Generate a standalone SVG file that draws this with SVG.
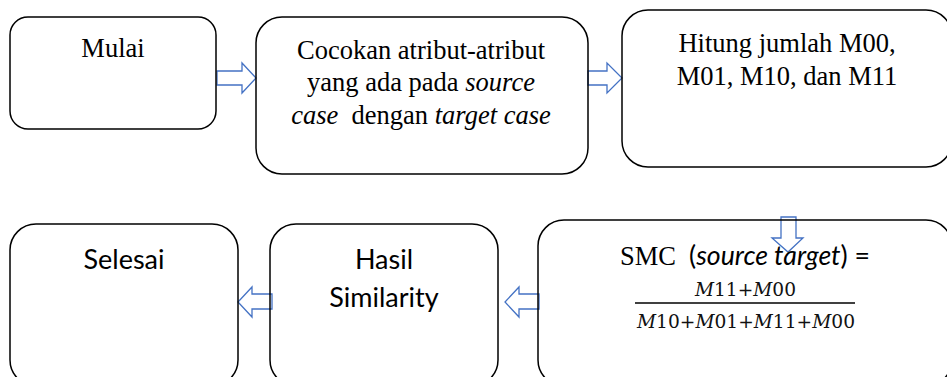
<svg xmlns="http://www.w3.org/2000/svg" width="947" height="377" viewBox="0 0 947 377">
<style>
.box{fill:none;stroke:#000;stroke-width:1.5}
.arr{fill:#fff;stroke:#4472C4;stroke-width:1.3;stroke-linejoin:miter}
.tm{font-family:"Liberation Serif","Times New Roman",serif;font-size:26.5px;fill:#000}
.sf{font-family:Lato,"Open Sans","Liberation Sans",sans-serif;font-size:27px;fill:#000}
.mf{font-family:"DejaVu Serif","Liberation Serif",serif;font-size:18px;fill:#111}
</style>
<rect width="947" height="377" fill="#fff"/>
<g id="connectors">
  <path class="arr" d="M217,71 H242 V63 L256,78 L242,93 V85 H217 Z"/>
  <path class="arr" d="M588,71 H607 V63 L622,78 L607,93 V85 H588 Z"/>
  <path class="arr" d="M781,217 H796 V238 H803 L788,252 L772,238 H781 Z"/>
  <path class="arr" d="M539,294 H519 V287 L505,302 L519,317 V309 H539 Z"/>
  <path class="arr" d="M272,294 H252 V287 L238,302 L252,317 V309 H272 Z"/>
</g>
<g id="mulai">
  <rect class="box" x="10" y="17" width="206" height="112" rx="18"/>
  <text class="tm" x="113" y="57" text-anchor="middle">Mulai</text>
</g>
<g id="cocokan">
  <rect class="box" x="256" y="17" width="332" height="157" rx="26"/>
  <text class="tm" x="421" y="59" text-anchor="middle">Cocokan atribut-atribut</text>
  <text class="tm" x="421" y="91" text-anchor="middle">yang ada pada <tspan font-style="italic">source</tspan></text>
  <text class="tm" x="421" y="124" text-anchor="middle" xml:space="preserve"><tspan font-style="italic">case</tspan>  dengan <tspan font-style="italic">target case</tspan></text>
</g>
<g id="hitung">
  <rect class="box" x="622" y="10" width="330" height="157" rx="26"/>
  <text class="tm" x="787" y="52" text-anchor="middle">Hitung jumlah M00,</text>
  <text class="tm" x="787" y="85" text-anchor="middle">M01, M10, dan M11</text>
</g>
<g id="smc">
  <rect class="box" x="538" y="220" width="414" height="166" rx="26"/>
  <text class="tm" x="620" y="265" font-size="30.5px">SMC</text>
  <text class="sf" x="689" y="265" font-size="28px" textLength="181" lengthAdjust="spacingAndGlyphs">(<tspan font-style="italic">source target</tspan>) =</text>
  <text class="mf" x="745.5" y="296" text-anchor="middle" textLength="101" lengthAdjust="spacingAndGlyphs"><tspan font-style="italic">M</tspan>11+<tspan font-style="italic">M</tspan>00</text>
  <line x1="635" y1="303" x2="855" y2="303" stroke="#000" stroke-width="1.3"/>
  <text class="mf" x="746" y="328" text-anchor="middle" textLength="218" lengthAdjust="spacingAndGlyphs"><tspan font-style="italic">M</tspan>10+<tspan font-style="italic">M</tspan>01+<tspan font-style="italic">M</tspan>11+<tspan font-style="italic">M</tspan>00</text>
</g>
<g id="hasil">
  <rect class="box" x="270" y="224" width="228" height="162" rx="26"/>
  <text class="sf" x="384" y="269" text-anchor="middle">Hasil</text>
  <text class="sf" x="384" y="307" text-anchor="middle">Similarity</text>
</g>
<g id="selesai">
  <rect class="box" x="10" y="224" width="228" height="162" rx="26"/>
  <text class="sf" x="124" y="269" text-anchor="middle">Selesai</text>
</g>
</svg>
